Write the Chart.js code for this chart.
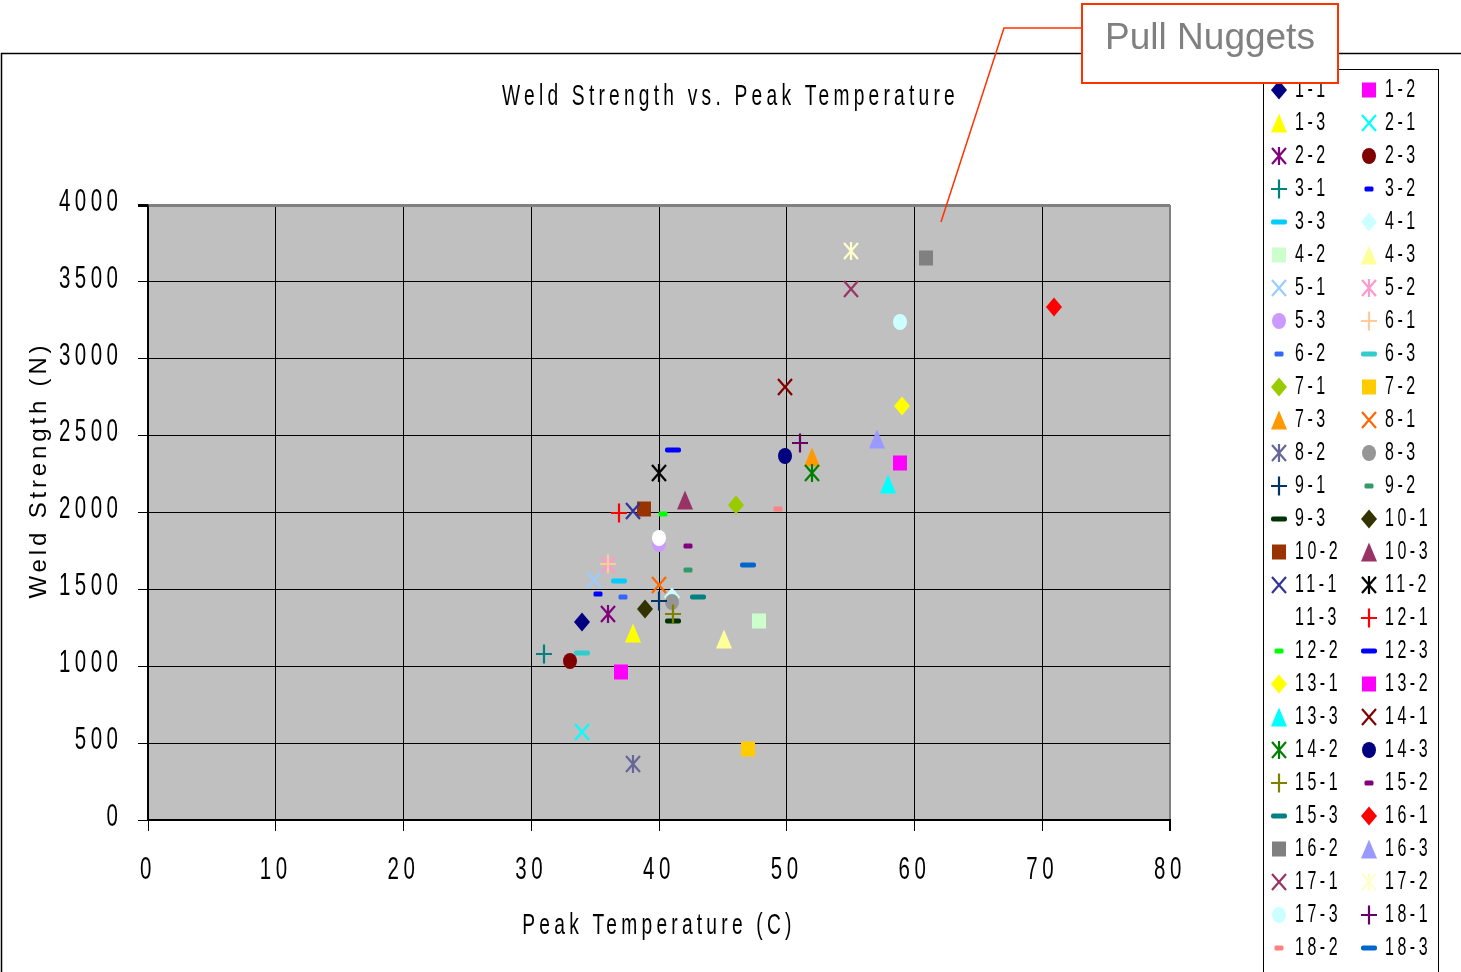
<!DOCTYPE html>
<html>
<head>
<meta charset="utf-8">
<title>Weld Strength vs. Peak Temperature</title>
<script src="https://cdn.jsdelivr.net/npm/chart.js@4.4.1/dist/chart.umd.min.js"></script>
<style>
  html, body { margin: 0; padding: 0; background: #fff; }
  canvas { display: block; }
</style>
</head>
<body>
<canvas id="weld" width="1461" height="972"></canvas>
<script>
// ---- data: one nugget per series ----
const seriesNames = ['1-1','1-2','1-3','2-1','2-2','2-3','3-1','3-2','3-3',
  '4-1','4-2','4-3','5-1','5-2','5-3','6-1','6-2','6-3',
  '7-1','7-2','7-3','8-1','8-2','8-3','9-1','9-2','9-3',
  '10-1','10-2','10-3','11-1','11-2','11-3','12-1','12-2','12-3',
  '13-1','13-2','13-3','14-1','14-2','14-3','15-1','15-2','15-3',
  '16-1','16-2','16-3','17-1','17-2','17-3','18-1','18-2','18-3'];

// peak temperature (C)
const peakTemps = [34, 37, 38, 34, 36, 33, 31, 35.2, 36.9,
  41, 47.8, 45.1, 34.9, 36, 40, 36, 37.2, 34,
  46, 47, 52, 40, 38, 41, 40, 42.3, 41.1,
  38.9, 38.8, 42, 38, 40, 40, 36.9, 40.3, 41.1,
  59, 58.9, 57.9, 49.9, 52, 49.9, 41.1, 42.3, 43.05,
  70.9, 60.9, 57.1, 55, 55, 58.9, 51, 49.3, 47];

// weld strength (N)
const weldStrengths = [1290, 965, 1215, 570, 1340, 1035, 1080, 1470, 1555,
  1450, 1295, 1175, 1560, 1660, 1795, 1665, 1450, 1085,
  2050, 462, 2360, 1528, 365, 1415, 1425, 1625, 1295,
  1372, 2025, 2081, 2010, 2257, 1834, 1997, 1990, 2407,
  2693, 2322, 2185, 2816, 2257, 2368, 1340, 1782, 1450,
  3336, 3655, 2478, 3454, 3701, 3239, 2452, 2023, 1658];

const tempTicks = [0, 10, 20, 30, 40, 50, 60, 70, 80];
const strengthTicks = [0, 500, 1000, 1500, 2000, 2500, 3000, 3500, 4000];

// ---- marker styles ----
const markerColors = ['#000080','#FF00FF','#FFFF00','#00FFFF','#800080','#800000','#008080','#0000FF','#00CCFF',
  '#CCFFFF','#CCFFCC','#FFFF99','#99CCFF','#FF99CC','#CC99FF','#FFCC99','#3366FF','#33CCCC',
  '#99CC00','#FFCC00','#FF9900','#FF6600','#666699','#969696','#003366','#339966','#003300',
  '#333300','#993300','#993366','#333399','#000000','#FFFFFF','#FF0000','#00FF00','#0000FF',
  '#FFFF00','#FF00FF','#00FFFF','#800000','#008000','#000080','#808000','#800080','#008080',
  '#FF0000','#808080','#9999FF','#993366','#FFFFCC','#CCFFFF','#660066','#FF8080','#0066CC'];
const markerCycle = ['diamond','square','triangle','cross','star','circle','plus','shortDash','longDash'];

function markerCanvas(shape, color) {
  const W = 20, H = 22;
  const c = document.createElement('canvas');
  c.width = W; c.height = H;
  const g = c.getContext('2d');
  const cx = W / 2, cy = H / 2;
  g.fillStyle = color;
  g.strokeStyle = color;
  g.lineWidth = 2.2;
  g.beginPath();
  switch (shape) {
    case 'diamond':
      g.moveTo(cx, cy - 9.5); g.lineTo(cx + 8, cy); g.lineTo(cx, cy + 9.5); g.lineTo(cx - 8, cy);
      g.closePath(); g.fill(); break;
    case 'square':
      g.fillRect(cx - 7, cy - 7.5, 14, 15); break;
    case 'triangle':
      g.moveTo(cx, cy - 9.5); g.lineTo(cx + 8, cy + 9.5); g.lineTo(cx - 8, cy + 9.5);
      g.closePath(); g.fill(); break;
    case 'circle':
      g.ellipse(cx, cy, 7, 8, 0, 0, Math.PI * 2); g.fill(); break;
    case 'cross':
      g.moveTo(cx - 7, cy - 8); g.lineTo(cx + 7, cy + 8);
      g.moveTo(cx + 7, cy - 8); g.lineTo(cx - 7, cy + 8); g.stroke(); break;
    case 'star':
      g.moveTo(cx - 7, cy - 8); g.lineTo(cx + 7, cy + 8);
      g.moveTo(cx + 7, cy - 8); g.lineTo(cx - 7, cy + 8);
      g.moveTo(cx, cy - 9); g.lineTo(cx, cy + 9); g.stroke(); break;
    case 'plus':
      g.moveTo(cx - 8, cy); g.lineTo(cx + 8, cy);
      g.moveTo(cx, cy - 9.5); g.lineTo(cx, cy + 9.5); g.stroke(); break;
    case 'longDash':
      g.roundRect(cx - 8, cy - 2.5, 16, 5, 2); g.fill(); break;
    case 'shortDash':
      g.roundRect(cx - 4.5, cy - 2.5, 9, 5, 1.5); g.fill(); break;
  }
  return c;
}

// ---- condensed, letter-spaced lettering ----
const NARROW = 0.64;          // horizontal squeeze of upright text
const TRACK = 0.22;           // letter spacing of upright text (em)
const TRACK_ROTATED = 0.16;   // letter spacing of the vertical axis title (em)

const canvas = document.getElementById('weld');
const ctx2d = canvas.getContext('2d');
const plainFillText = ctx2d.fillText.bind(ctx2d);
const plainMeasureText = ctx2d.measureText.bind(ctx2d);
function fontPx(ctx) {
  const m = /(\d+(?:\.\d+)?)px/.exec(ctx.font);
  return m ? parseFloat(m[1]) : 12;
}
ctx2d.fillText = function (text, x, y) {
  const t = this.getTransform();
  const upright = Math.abs(t.b) < 1e-6 && Math.abs(t.c) < 1e-6;
  const px = fontPx(this);
  this.save();
  this.letterSpacing = (px * (upright ? TRACK : TRACK_ROTATED)).toFixed(2) + 'px';
  this.translate(x, y);
  if (upright) this.scale(NARROW, 1);
  plainFillText(text, 0, 0);
  this.restore();
};
ctx2d.measureText = function (text) {
  const px = fontPx(this);
  this.save();
  this.letterSpacing = (px * TRACK).toFixed(2) + 'px';
  const m = plainMeasureText(text);
  this.restore();
  return {
    width: m.width * NARROW,
    actualBoundingBoxAscent: m.actualBoundingBoxAscent,
    actualBoundingBoxDescent: m.actualBoundingBoxDescent,
    actualBoundingBoxLeft: m.actualBoundingBoxLeft * NARROW,
    actualBoundingBoxRight: m.actualBoundingBoxRight * NARROW,
    fontBoundingBoxAscent: m.fontBoundingBoxAscent,
    fontBoundingBoxDescent: m.fontBoundingBoxDescent
  };
};

// ---- layout constants (pixels) ----
const PLOT_RIGHT = 1170;
const LEGEND_LEFT = 1267.5;
const LEGEND_COL_STEP = 90;
const Y_TITLE_CENTER = 470;

const datasets = seriesNames.map((name, i) => ({
  label: name,
  data: [{ x: peakTemps[i], y: weldStrengths[i] }],
  pointStyle: markerCanvas(markerCycle[i % markerCycle.length], markerColors[i]),
  pointRadius: 8,
  pointHoverRadius: 8,
  backgroundColor: markerColors[i],
  borderColor: markerColors[i],
  showLine: false,
  order: seriesNames.length - i,
  xAxisID: 'x',
  yAxisID: 'y'
}));

// legend reads across in two columns: 1-1 1-2 / 1-3 2-1 / ...
const rowsPerColumn = Math.ceil(seriesNames.length / 2);
const legendKey = i => (i % 2) * rowsPerColumn + Math.floor(i / 2);

const sheet = {
  id: 'sheet',
  afterLayout(chart) {
    const lg = chart.legend;
    if (lg) {
      lg.left = LEGEND_LEFT;
      lg.right = chart.width;
      lg.width = lg.right - lg.left;
      if (lg.columnSizes && lg.columnSizes.length > 1) {
        lg.columnSizes[0].width = LEGEND_COL_STEP - lg.options.labels.padding;
      }
    }
    const yt = chart.scales.yTitle;
    const half = (chart.chartArea.bottom - chart.chartArea.top) / 2;
    yt.left = 0; yt.right = 0;
    yt.top = Y_TITLE_CENTER - half;
    yt.bottom = Y_TITLE_CENTER + half;
  },
  beforeDraw(chart) {
    const { ctx, chartArea: a, width, height } = chart;
    ctx.imageSmoothingEnabled = false;
    ctx.save();
    ctx.fillStyle = '#ffffff';
    ctx.fillRect(0, 0, width, height);
    ctx.fillStyle = '#C0C0C0';
    ctx.fillRect(a.left, a.top, a.right - a.left, a.bottom - a.top);
    // chart frame
    ctx.strokeStyle = '#000000';
    ctx.lineWidth = 1.5;
    ctx.beginPath();
    ctx.moveTo(1.5, height);
    ctx.lineTo(1.5, 53.5);
    ctx.lineTo(width, 53.5);
    ctx.stroke();
    // legend frame
    ctx.lineWidth = 1;
    ctx.strokeRect(1263.5, 69.5, 175, height);
    ctx.restore();
  },
  afterDraw(chart) {
    const { ctx } = chart;
    ctx.save();
    ctx.strokeStyle = '#FF3300';
    ctx.lineWidth = 1.5;
    ctx.beginPath();
    ctx.moveTo(1082, 28);
    ctx.lineTo(1004, 28);
    ctx.lineTo(941, 222);
    ctx.stroke();
    ctx.fillStyle = '#ffffff';
    ctx.fillRect(1082, 4, 256, 79);
    ctx.lineWidth = 2;
    ctx.strokeRect(1082, 4, 256, 79);
    ctx.fillStyle = '#808080';
    ctx.font = '37px "Liberation Sans", Arial, sans-serif';
    ctx.textAlign = 'center';
    ctx.textBaseline = 'middle';
    ctx.letterSpacing = '0px';
    plainFillText('Pull Nuggets', 1210, 39);
    ctx.restore();
  }
};

Chart.defaults.font.family = '"Liberation Sans", Arial, sans-serif';
Chart.defaults.color = '#000000';

const lastTemp = tempTicks[tempTicks.length - 1];
const lastStrength = strengthTicks[strengthTicks.length - 1];

new Chart(canvas, {
  type: 'scatter',
  data: { datasets },
  plugins: [sheet],
  options: {
    responsive: false,
    animation: false,
    events: [],
    layout: { padding: { top: 69.5, left: 0, right: 0, bottom: 0 } },
    plugins: {
      tooltip: { enabled: false },
      title: {
        display: true,
        text: 'Weld Strength vs. Peak Temperature',
        color: '#000000',
        font: { size: 30, weight: 'normal' },
        padding: { top: 9, bottom: 90.5 }
      },
      legend: {
        display: true,
        position: 'right',
        align: 'start',
        labels: {
          usePointStyle: true,
          pointStyleWidth: 7,
          padding: 8,
          color: '#000000',
          font: { size: 25 },
          sort: (a, b) => legendKey(a.datasetIndex) - legendKey(b.datasetIndex)
        }
      }
    },
    scales: {
      x: {
        type: 'linear',
        position: 'bottom',
        min: tempTicks[0],
        max: lastTemp,
        ticks: {
          stepSize: tempTicks[1] - tempTicks[0],
          padding: 20,
          color: '#000000',
          font: { size: 32 },
          callback: v => String(v)
        },
        grid: {
          color: c => (c.tick && c.tick.value === lastTemp) ? '#808080' : '#000000',
          lineWidth: c => (c.tick && c.tick.value === lastTemp) ? 2 : 1,
          tickLength: 11,
          tickColor: '#000000'
        },
        border: { display: true, color: '#000000', width: 2 },
        title: {
          display: true,
          text: 'Peak Temperature (C)',
          color: '#000000',
          font: { size: 30 },
          padding: { top: 0, bottom: 28 }
        },
        afterFit: s => { s.height = 152; }
      },
      y: {
        type: 'linear',
        position: 'left',
        min: strengthTicks[0],
        max: lastStrength,
        ticks: {
          stepSize: strengthTicks[1] - strengthTicks[0],
          padding: 15.5,
          labelOffset: -3,
          color: '#000000',
          font: { size: 32 },
          callback: v => String(v)
        },
        grid: {
          color: c => (c.tick && c.tick.value === lastStrength) ? '#808080' : '#000000',
          lineWidth: c => (c.tick && c.tick.value === lastStrength) ? 3 : 1,
          tickLength: 10,
          tickColor: '#000000'
        },
        border: { display: true, color: '#000000', width: 1.5 },
        afterFit: s => { s.width = 148; }
      },
      yTitle: {
        type: 'linear',
        position: 'left',
        display: true,
        grid: { display: false, drawTicks: false },
        ticks: { display: false },
        border: { display: false },
        title: {
          display: true,
          text: 'Weld Strength (N)',
          color: '#000000',
          font: { size: 24 },
          padding: { top: 24.6, bottom: 0 }
        },
        afterFit: s => { s.width = 0; }
      },
      y2: {
        type: 'linear',
        position: 'right',
        display: true,
        grid: { display: false, drawTicks: false },
        ticks: { display: false },
        border: { display: false },
        afterFit: s => {
          const lw = s.chart.legend ? s.chart.legend.width : 0;
          s.width = Math.max(0, s.chart.width - lw - PLOT_RIGHT);
        }
      }
    }
  }
});
</script>
</body>
</html>
